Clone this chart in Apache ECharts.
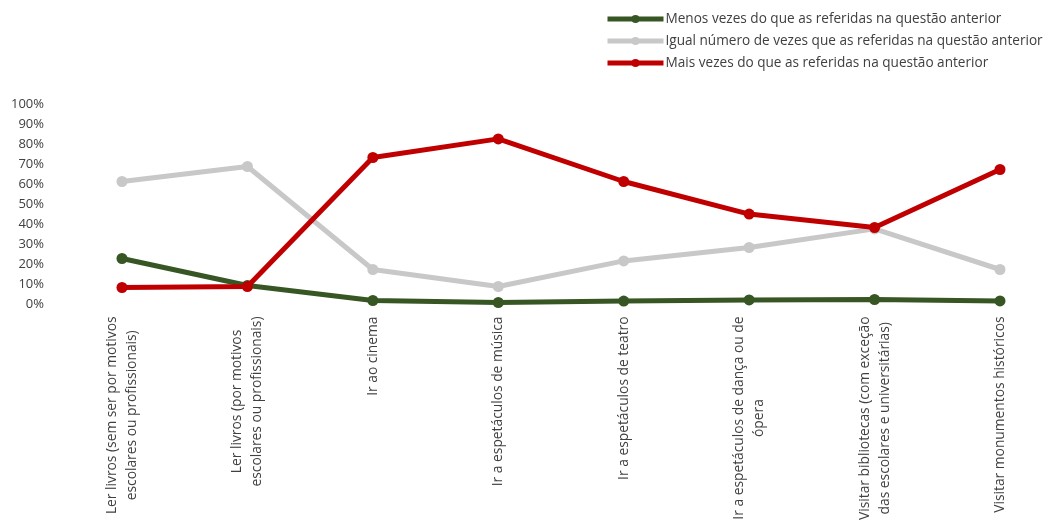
<!DOCTYPE html>
<html>
<head>
<meta charset="utf-8">
<script src="https://cdn.jsdelivr.net/npm/echarts@6/dist/echarts.min.js"></script>
<style>
html,body{margin:0;padding:0;background:#fff;}
#chart{width:1050px;height:520px;}
</style>
</head>
<body>
<div id="chart"></div>
<script>
var categories = [
  'Ler livros (sem ser por motivos\nescolares ou profissionais)',
  'Ler livros (por motivos\nescolares ou profissionais)',
  'Ir ao cinema',
  'Ir a espetáculos de música',
  'Ir a espetáculos de teatro',
  'Ir a espetáculos de dança ou de\nópera',
  'Visitar bibliotecas (com exceção\ndas escolares e universitárias)',
  'Visitar monumentos históricos'
];
var seriesNames = [
  'Menos vezes do que as referidas na questão anterior',
  'Igual número de vezes que as referidas na questão anterior',
  'Mais vezes do que as referidas na questão anterior'
];
var menos = [23, 9.5, 2, 1, 1.7, 2.3, 2.5, 1.8];
var igual = [61.5, 69, 17.5, 9, 21.8, 28.5, 37.8, 17.5];
var mais  = [8.5, 9, 73.5, 82.8, 61.5, 45.2, 38.5, 67.5];
var yTicks = [0, 10, 20, 30, 40, 50, 60, 70, 80, 90, 100];

var colors = ['#375623', '#c8c8c8', '#c00000'];
var font = '"Open Sans", sans-serif';

function mkSeries(name, data, color, z) {
  return {
    name: name, type: 'line', data: data, z: z,
    symbol: 'circle', symbolSize: 11,
    lineStyle: {color: color, width: 5},
    itemStyle: {color: color},
    emphasis: {disabled: true},
    animation: false
  };
}

var chart = echarts.init(document.getElementById('chart'));
chart.setOption({
  animation: false,
  textStyle: {fontFamily: font},
  legend: {
    orient: 'vertical',
    left: 600, top: 7,
    itemWidth: 56, itemHeight: 10, itemGap: 8,
    lineStyle: {width: 5},
    textStyle: {fontFamily: font, fontSize: 13.6, color: '#404040', padding: [0,0,0,-3]},
    data: seriesNames.map(function (n, i) {
      return {name: n, itemStyle: {color: colors[i]}, lineStyle: {color: colors[i], width: 5}};
    })
  },
  grid: {left: 122, right: 50, top: 104.5, bottom: 215.5, containLabel: false, outerBoundsMode: 'none'},
  xAxis: {
    type: 'category', data: categories, boundaryGap: false,
    axisLine: {show: false}, axisTick: {show: false},
    axisLabel: {
      rotate: 90, margin: 12, interval: 0,
      fontFamily: font, fontSize: 13.8, color: '#404040', lineHeight: 20,
      formatter: function (v) {
        return v.split('\n').map(function (l) { return '{c|' + l + '}'; }).join('\n');
      },
      rich: {c: {align: 'center', fontFamily: font, fontSize: 13.8, color: '#404040', lineHeight: 20}}
    },
    splitLine: {show: false}
  },
  yAxis: {
    type: 'value', min: yTicks[0], max: yTicks[yTicks.length - 1], interval: 10,
    axisLine: {show: false}, axisTick: {show: false}, splitLine: {show: false},
    axisLabel: {margin: 78, fontFamily: font, fontSize: 13, color: '#404040',
      formatter: function (v) { return v + '%'; }}
  },
  series: [
    mkSeries(seriesNames[0], menos, colors[0], 3),
    mkSeries(seriesNames[1], igual, colors[1], 2),
    mkSeries(seriesNames[2], mais, colors[2], 4)
  ]
});
</script>
</body>
</html>
